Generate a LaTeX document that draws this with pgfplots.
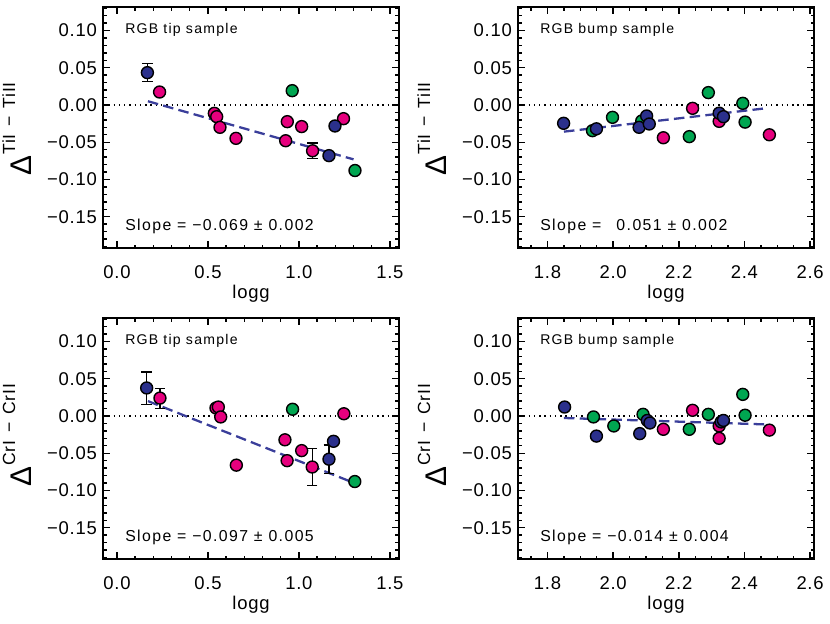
\documentclass[border=0pt]{standalone}
\usepackage{fontspec}
\setmainfont{Liberation Sans}[LetterSpace=4]
\newfontfamily\annfont{Liberation Sans}[LetterSpace=9]
\usepackage{pgfplots}
\pgfplotsset{compat=1.18}

\definecolor{cblue}{HTML}{2B308C}
\definecolor{cpink}{HTML}{E6007E}
\definecolor{cgreen}{HTML}{00A651}
\definecolor{cfit}{HTML}{3A3E9A}

\pgfplotsset{
  panel/.style={
    scale only axis, width=5.92cm, height=4.82cm, anchor=north west,
    ymin=-0.192, ymax=0.1315,
    ytick={-0.15,-0.1,-0.05,0,0.05,0.1},
    yticklabels={−0.15,−0.10,−0.05,0.00,0.05,0.10},
    minor ytick={-0.19,-0.18,-0.17,-0.16,-0.14,-0.13,-0.12,-0.11,-0.09,-0.08,-0.07,-0.06,-0.04,-0.03,-0.02,-0.01,0.01,0.02,0.03,0.04,0.06,0.07,0.08,0.09,0.11,0.12,0.13},
    tick align=inside,
    axis line style={line width=0.9pt},
    every tick/.style={black, line width=0.8pt},
    major tick length=0.14cm, minor tick length=0.07cm,
    tick label style={font=\fontsize{10.5}{12}\selectfont},
    xticklabel style={yshift=-6.5pt},
    xlabel={logg},
    xlabel style={font=\fontsize{10.5}{12}\selectfont, at={(rel axis cs:0.5,-0.2075)}, anchor=base},
    ylabel style={at={(rel axis cs:-0.240,0.274)}, anchor=base west},
    clip=false,
  },
  lefttip/.style={panel, xmin=-0.077, xmax=1.55,
    xtick={0,0.5,1,1.5}, xticklabels={0.0,0.5,1.0,1.5},
    minor xtick={0.1,0.2,0.3,0.4,0.6,0.7,0.8,0.9,1.1,1.2,1.3,1.4}},
  rightbump/.style={panel, xmin=1.71, xmax=2.612,
    xtick={1.8,2.0,2.2,2.4,2.6}, xticklabels={1.8,2.0,2.2,2.4,2.6},
    minor xtick={1.75,1.85,1.9,1.95,2.05,2.1,2.15,2.25,2.3,2.35,2.45,2.5,2.55}},
  pt/.style={only marks, mark=*, mark size=3.4pt,
    mark options={draw=black, line width=0.8pt, fill=#1}},
  fit/.style={cfit, line width=1.3pt, dash pattern=on 6pt off 3pt},
  zero/.style={black, line width=0.8pt, dash pattern=on 0.8pt off 2.2pt},
  eb/.style={only marks, mark=none, forget plot,
    error bars/.cd, y dir=both, y explicit,
    error bar style={black, solid, line width=0.7pt},
    error mark options={rotate=90, mark size=3pt, black, line width=0.7pt}},
}
\tikzset{
  lab/.style={anchor=west, inner sep=0pt, font=\annfont\fontsize{8}{9}\selectfont},
  slope/.style={anchor=west, inner sep=0pt, font=\annfont\fontsize{9}{10}\selectfont},
}

\newcommand{\dlabel}[2]{{\fontsize{17}{17}\selectfont Δ}\kern0.8pt\raisebox{9.6pt}{\fontsize{10}{10}\selectfont #1\hspace{0.45em}−\hspace{0.45em}#2}}

\begin{document}
\begin{tikzpicture}
\useasboundingbox (0,0) rectangle (16.6,-12.46);

% top left
\begin{axis}[lefttip, at={(2.06cm,-0.14cm)}, ylabel={\dlabel{TiI}{TiII}}]
\addplot[zero] coordinates {(-0.077,0) (1.55,0)};
\addplot[fit] coordinates {(0.17,0.005) (1.30,-0.073)};
\addplot[eb] coordinates {(0.167,0.0434) +- (0,0.012) (1.075,-0.0615) +- (0,0.0105)};
\addplot[pt=cpink] coordinates {(0.234,0.0174) (0.535,-0.0112) (0.548,-0.0157) (0.566,-0.030) (0.654,-0.0448) (0.936,-0.0224) (0.927,-0.048) (1.015,-0.029) (1.075,-0.0615) (1.245,-0.0184)};
\addplot[pt=cgreen] coordinates {(0.963,0.0192) (1.308,-0.088)};
\addplot[pt=cblue] coordinates {(0.167,0.0434) (1.165,-0.068) (1.198,-0.0282)};
\node[lab] at (rel axis cs:0.074,0.905) {RGB tip sample};
\node[slope] at (rel axis cs:0.074,0.091) {Slope = −0.069 ± 0.002};
\end{axis}

% top right
\begin{axis}[rightbump, at={(10.36cm,-0.14cm)}, ylabel={\dlabel{TiI}{TiII}}]
\addplot[zero] coordinates {(1.71,0) (2.612,0)};
\addplot[fit] coordinates {(1.85,-0.0358) (2.47,-0.0042)};
\addplot[pt=cpink] coordinates {(2.153,-0.044) (2.242,-0.0045) (2.323,-0.022) (2.476,-0.040)};
\addplot[pt=cgreen] coordinates {(1.937,-0.0345) (1.998,-0.0166) (2.087,-0.0215) (2.232,-0.0425) (2.29,0.0166) (2.395,0.0022) (2.402,-0.023)};
\addplot[pt=cblue] coordinates {(1.849,-0.0246) (1.949,-0.032) (2.079,-0.030) (2.102,-0.0148) (2.11,-0.0255) (2.323,-0.011) (2.336,-0.0157)};
\node[lab] at (rel axis cs:0.074,0.905) {RGB bump sample};
\node[slope] at (rel axis cs:0.074,0.091) {Slope = \phantom{−}0.051 ± 0.002};
\end{axis}

% bottom left
\begin{axis}[lefttip, at={(2.06cm,-6.36cm)}, ylabel={\dlabel{CrI}{CrII}}]
\addplot[zero] coordinates {(-0.077,0) (1.55,0)};
\addplot[fit] coordinates {(0.17,0.020) (1.30,-0.0896)};
\addplot[eb] coordinates {(0.163,0.0374) +- (0,0.0215) (0.236,0.0233) +- (0,0.0135) (1.073,-0.0685) +- (0,0.0245) (1.165,-0.058) +- (0,0.019)};
\addplot[pt=cpink] coordinates {(0.236,0.024) (0.544,0.0107) (0.557,0.012) (0.570,-0.0013) (0.656,-0.066) (0.923,-0.032) (0.935,-0.060) (1.015,-0.0465) (1.073,-0.0685) (1.247,0.003)};
\addplot[pt=cgreen] coordinates {(0.965,0.009) (1.307,-0.088)};
\addplot[pt=cblue] coordinates {(0.163,0.0376) (1.165,-0.058) (1.19,-0.034)};
\node[lab] at (rel axis cs:0.074,0.905) {RGB tip sample};
\node[slope] at (rel axis cs:0.074,0.091) {Slope = −0.097 ± 0.005};
\end{axis}

% bottom right
\begin{axis}[rightbump, at={(10.36cm,-6.36cm)}, ylabel={\dlabel{CrI}{CrII}}]
\addplot[zero] coordinates {(1.71,0) (2.612,0)};
\addplot[fit] coordinates {(1.85,-0.0027) (2.47,-0.0114)};
\addplot[pt=cpink] coordinates {(2.153,-0.0179) (2.242,0.0076) (2.323,-0.0134) (2.323,-0.030) (2.476,-0.019)};
\addplot[pt=cgreen] coordinates {(1.94,-0.0013) (2.002,-0.0134) (2.091,0.0022) (2.232,-0.0179) (2.29,0.0022) (2.395,0.029) (2.402,0.001)};
\addplot[pt=cblue] coordinates {(1.852,0.012) (1.949,-0.027) (2.081,-0.0237) (2.104,-0.006) (2.112,-0.0094) (2.329,-0.008) (2.336,-0.006)};
\node[lab] at (rel axis cs:0.074,0.905) {RGB bump sample};
\node[slope] at (rel axis cs:0.074,0.091) {Slope = −0.014 ± 0.004};
\end{axis}
\end{tikzpicture}
\end{document}
